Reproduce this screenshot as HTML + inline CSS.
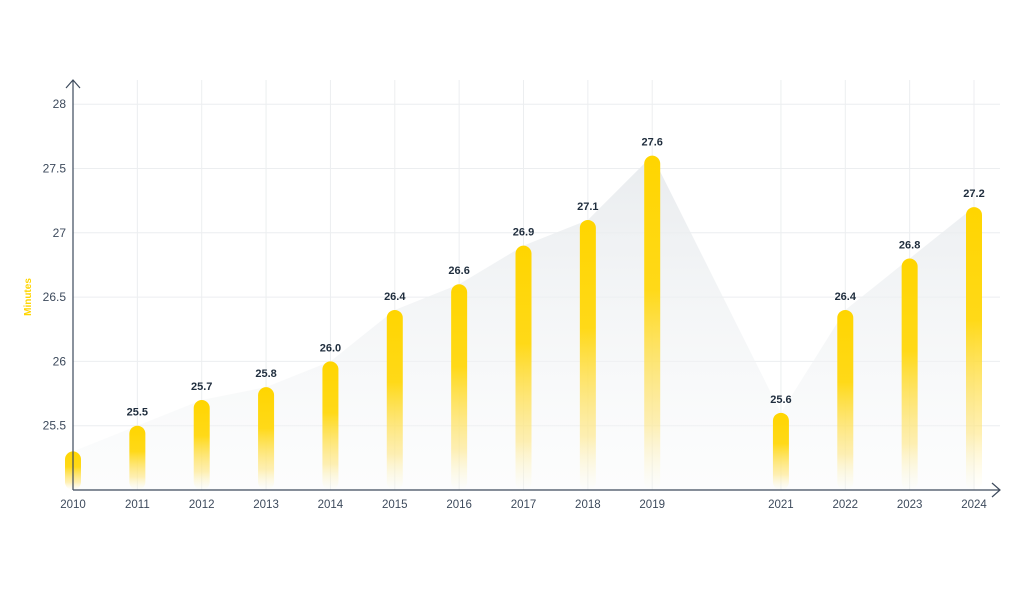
<!DOCTYPE html>
<html><head><meta charset="utf-8"><style>
html,body{margin:0;padding:0;background:#fff;}
svg text{font-family:"Liberation Sans",sans-serif;}
</style></head><body>
<svg id="chart" width="1024" height="587" viewBox="0 0 1024 587" xmlns="http://www.w3.org/2000/svg">
<defs>
<linearGradient id="barGrad" x1="0" y1="0" x2="0" y2="1">
<stop offset="0" stop-color="#ffd500"/><stop offset="0.4" stop-color="#ffd918"/><stop offset="0.8" stop-color="#ffe680" stop-opacity="0.6"/><stop offset="1" stop-color="#fff5c0" stop-opacity="0"/>
</linearGradient>
<linearGradient id="areaGrad" x1="0" y1="0" x2="0" y2="1">
<stop offset="0" stop-color="#e8ebee" stop-opacity="0.95"/><stop offset="1" stop-color="#f5f7f8" stop-opacity="0.3"/>
</linearGradient>
</defs>
<g id="grid"></g>
<path id="area" fill="url(#areaGrad)"/>
<g id="bars"></g>
<g id="axes" stroke="#3d4a5c" stroke-width="1.2" fill="none">
<line x1="73" y1="80" x2="73" y2="490"/>
<polyline points="66,88 73,80 80,88"/>
<line x1="73" y1="490" x2="1000" y2="490"/>
<polyline points="992,483 1000,490 992,497"/>
</g>
<text transform="translate(31,297) rotate(-90)" text-anchor="middle" font-size="10" font-weight="bold" fill="#ffd500">Minutes</text>
<g id="labels"></g>
</svg>
<script>
const years=[2010,2011,2012,2013,2014,2015,2016,2017,2018,2019,2021,2022,2023,2024];
const values=[25.3,25.5,25.7,25.8,26.0,26.4,26.6,26.9,27.1,27.6,25.6,26.4,26.8,27.2];
const valueLabels=["","25.5","25.7","25.8","26.0","26.4","26.6","26.9","27.1","27.6","25.6","26.4","26.8","27.2"];
const yTicks=[25.5,26,26.5,27,27.5,28];
const yTickLabels=["25.5","26","26.5","27","27.5","28"];
const NS="http://www.w3.org/2000/svg";
const xS=y=>73+(y-2010)*(974-73)/14;
const yS=v=>490-(v-25)*128.6;
function mk(t,a,p){const e=document.createElementNS(NS,t);for(const k in a)e.setAttribute(k,a[k]);p.appendChild(e);return e;}
const grid=document.getElementById('grid'),bars=document.getElementById('bars'),labels=document.getElementById('labels');
yTicks.forEach((t,i)=>{
 const l=mk('line',{x1:73,x2:1000,y1:yS(t),y2:yS(t),stroke:'#eceef0','stroke-width':1},grid);
 
 
 const tx=mk('text',{x:66,y:yS(t)+4,'text-anchor':'end','font-size':12,fill:'#3d4a5c'},labels);
 tx.textContent=yTickLabels[i];
 
 
});
years.forEach((yr,i)=>{
 const x=xS(yr);
 const g=mk('line',{x1:x,x2:x,y1:80,y2:490,stroke:'#eceef0','stroke-width':1},grid);
 
 
 const top=yS(values[i]);
 const b=mk('rect',{x:x-8,y:top,width:16,height:490-top,rx:8,ry:8,fill:'url(#barGrad)'},bars);
 
 
 if(valueLabels[i]){
  const v=mk('text',{x:x,y:top-10,'text-anchor':'middle','font-size':11,'font-weight':'bold',fill:'#1f2d3d'},labels);
  v.textContent=valueLabels[i];
  
  
 }
 const xt=mk('text',{x:x,y:508,'text-anchor':'middle','font-size':11.5,fill:'#3d4a5c'},labels);
 xt.textContent=String(yr);
 
 
});
let d='M'+xS(years[0])+',490';
years.forEach((yr,i)=>{d+=' L'+xS(yr)+','+yS(values[i]);});
d+=' L'+xS(years[years.length-1])+',490 Z';
document.getElementById('area').setAttribute('d',d);
</script>
</body></html>
